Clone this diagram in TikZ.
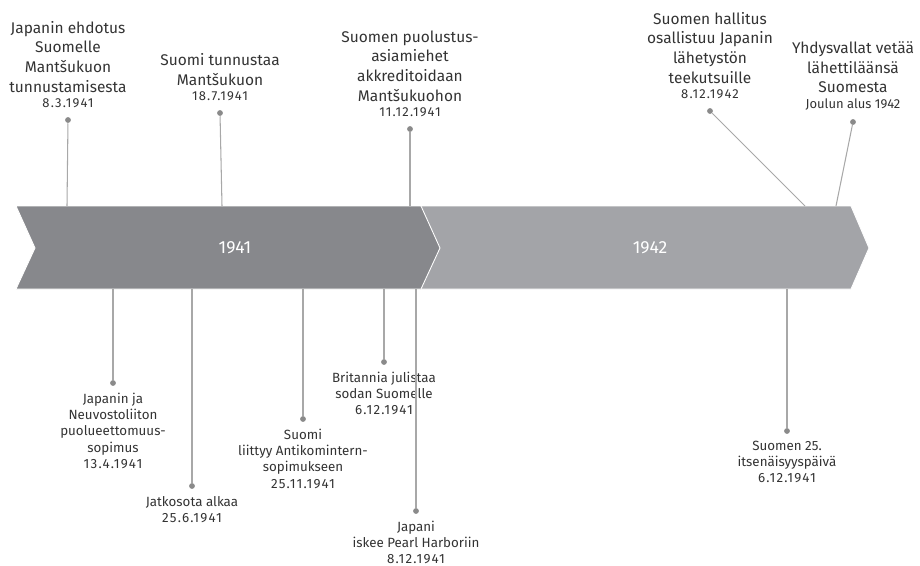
\documentclass[tikz,border=0pt]{standalone}
\usepackage{fontspec}
\setmainfont{Fira Sans}
\usetikzlibrary{positioning}
\definecolor{bardark}{HTML}{87888C}
\definecolor{barlight}{HTML}{A3A4A8}
\definecolor{stemgray}{HTML}{A8A8A8}
\definecolor{dotgray}{HTML}{8A8A8A}
\definecolor{txtgray}{HTML}{333333}
% the date line under an upper label is a little smaller;
% numeric dates are letterspaced
\newcommand{\datum}[1]{\\[-2.5pt]{\fontsize{7.4}{9}\selectfont #1}}
\newcommand{\pvm}[1]{{\addfontfeatures{LetterSpace=9}#1}}

\begin{document}
\begin{tikzpicture}[x=0.02cm, y=-0.02cm,
    dot/.style={circle, fill=dotgray, inner sep=0pt, minimum size=3.3pt},
    stem/.style={stemgray, line width=0.6pt},
    up/.style={align=center, inner sep=0pt, text=txtgray,
               font=\fontsize{8.8}{11.2}\selectfont},
    down/.style={align=center, inner sep=0pt, text=txtgray,
                 font=\fontsize{7.6}{9.2}\selectfont},
    year/.style={text=white, font=\fontsize{10}{12}\selectfont}]
  \useasboundingbox (0,0) rectangle (920,565);
  % the two year bands, the later one first so the earlier tip lies on it
  \fill[barlight, draw=white, line width=0.5pt]
    (420,206) -- (851,206) -- (869,248) -- (851,289) -- (420,289) -- (439,248) -- cycle;
  \fill[bardark, draw=white, line width=0.5pt]
    (16,206) -- (421,206) -- (440,248) -- (421,289) -- (16,289) -- (35,248) -- cycle;
  \node[year] (y41) at (235,248) {1941};
  \node[year] (y42) at (650,248) {1942};
  % events above the bands: dot, foot on the band, text
  \foreach \n/\dx/\dy/\fx/\txt in {%
      1/68/120/67/{Japanin ehdotus\\Suomelle\\Mantšukuon\\tunnustamisesta\datum{\pvm{8.3.1941}}},
      2/220/113/222/{Suomi tunnustaa\\Mantšukuon\datum{\pvm{18.7.1941}}},
      3/410/129/410/{Suomen puolustus-\\asiamiehet\\akkreditoidaan\\Mantšukuohon\datum{\pvm{11.12.1941}}},
      4/710/111/805/{Suomen hallitus\\osallistuu Japanin\\lähetystön\\teekutsuille\datum{\pvm{8.12.1942}}},
      5/853/122/836/{Yhdysvallat vetää\\lähettiläänsä\\Suomesta\datum{Joulun alus 1942}}}{
    \node[dot] (u\n) at (\dx,\dy) {};
    \coordinate (uf\n) at (\fx,206);
    \draw[stem] (u\n) -- (uf\n);
    \node[up, above=0.17cm of u\n] (ut\n) {\txt};}
  % events below the bands
  \foreach \n/\dx/\dy/\txt in {%
      1/113/383/{Japanin ja\\Neuvostoliiton\\puolueettomuus-\\sopimus\\\pvm{13.4.1941}},
      2/192/486/{Jatkosota alkaa\\\pvm{25.6.1941}},
      3/303/419/{Suomi\\liittyy Antikomintern-\\sopimukseen\\\pvm{25.11.1941}},
      4/384/362/{Britannia julistaa\\sodan Suomelle\\\pvm{6.12.1941}},
      5/416/511/{Japani\\iskee Pearl Harboriin\\\pvm{8.12.1941}},
      6/787/431/{Suomen 25.\\itsenäisyyspäivä\\\pvm{6.12.1941}}}{
    \node[dot] (l\n) at (\dx,\dy) {};
    \coordinate (lf\n) at (\dx,289);
    \draw[stem] (lf\n) -- (l\n);
    \node[down, below=0.13cm of l\n] (lt\n) {\txt};}
\end{tikzpicture}
\end{document}
